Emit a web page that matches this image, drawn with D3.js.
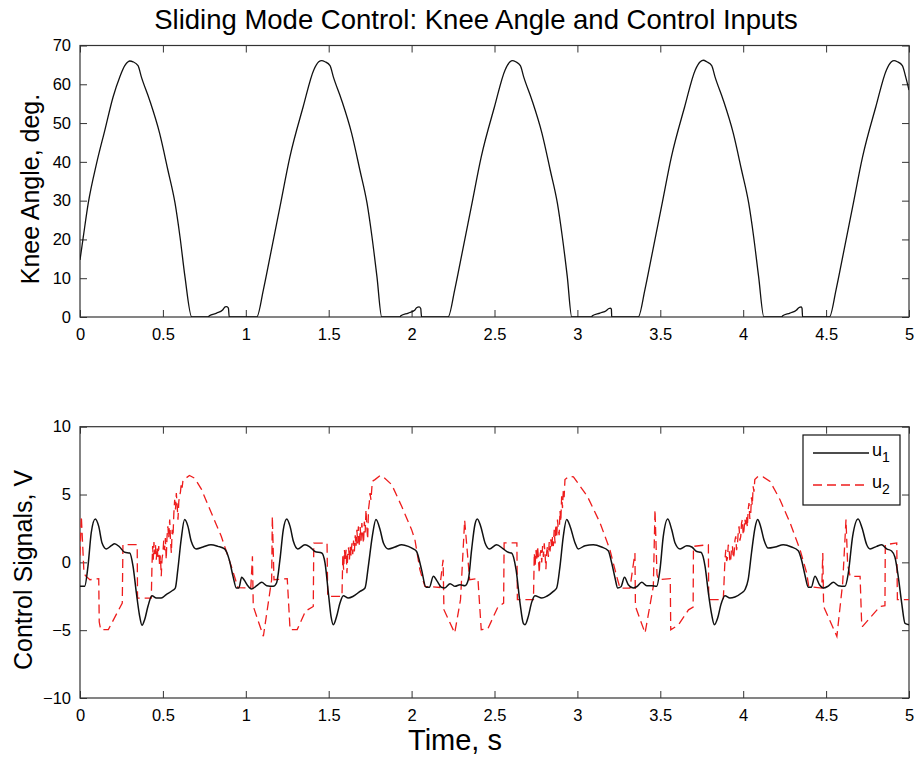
<!DOCTYPE html>
<html>
<head>
<meta charset="utf-8">
<script src="https://cdn.jsdelivr.net/npm/d3@7"></script>
<style>
  body { margin: 0; background: #fff; }
  text { font-family: "Liberation Sans", Arial, Helvetica, sans-serif; fill: #000; }
</style>
</head>
<body>
<svg width="918" height="757"></svg>
<script>
// tick values
const timeTicks = [0, 0.5, 1, 1.5, 2, 2.5, 3, 3.5, 4, 4.5, 5];
const kneeTicks = [0, 10, 20, 30, 40, 50, 60, 70];
const ctrlTicks = [-10, -5, 0, 5, 10];

// knee angle [t, deg]
const kneeAngle = [
  [0,14.7],[0.02,20.7],[0.05,29.4],[0.1,39.6],[0.15,48.2],[0.2,56.8],[0.24,61.9],[0.27,64.8],[0.29,65.8],[0.30,66.0],[0.32,65.8],[0.35,64.8],[0.37,61.9],[0.42,55.9],[0.48,47.4],[0.53,37.9],[0.573,29.4],[0.603,20.7],[0.633,10.4],[0.674,0],
  [0.774,0],[0.78,0.3],[0.824,1.0],[0.86,1.8],[0.875,2.6],[0.885,2.7],[0.895,2.3],[0.9,0],
  [1.066,0],[1.106,7],[1.146,15.5],[1.206,28.4],[1.266,41.3],[1.346,54.2],[1.41,63.7],[1.44,65.8],[1.458,66.1],[1.478,65.8],[1.508,64.8],[1.528,61.9],[1.578,55.9],[1.638,47.4],[1.688,37.9],[1.731,29.4],[1.761,20.7],[1.791,10.4],[1.82,0],
  [1.93,0],[1.935,0.3],[1.98,1.0],[2.02,1.8],[2.03,2.4],[2.045,2.6],[2.055,2.2],[2.06,0],
  [2.22,0],[2.26,7],[2.30,15.5],[2.36,28.4],[2.42,41.3],[2.50,54.2],[2.564,63.7],[2.594,65.8],[2.608,66.1],[2.628,65.8],[2.656,64.8],[2.676,61.9],[2.726,55.9],[2.786,47.4],[2.836,37.9],[2.879,29.4],[2.909,20.7],[2.939,10.4],[2.966,0],
  [3.086,0],[3.09,0.3],[3.136,1.0],[3.176,1.7],[3.19,2.2],[3.2,2.3],[3.205,2.0],[3.207,0],
  [3.367,0],[3.407,7],[3.447,15.5],[3.507,28.4],[3.567,41.3],[3.647,54.2],[3.711,63.7],[3.741,65.8],[3.76,66.2],[3.78,65.8],[3.81,64.8],[3.83,61.9],[3.88,55.9],[3.94,47.4],[3.99,37.9],[4.033,29.4],[4.063,20.7],[4.093,10.4],[4.125,0],
  [4.232,0],[4.238,0.3],[4.282,1.0],[4.322,1.8],[4.335,2.4],[4.35,2.6],[4.355,2.2],[4.358,0],
  [4.52,0],[4.56,7],[4.60,15.5],[4.66,28.4],[4.72,41.3],[4.80,54.2],[4.864,63.7],[4.894,65.8],[4.91,66.1],[4.93,65.8],[4.96,64.8],[4.98,61.9],[5.0,58.5]
];

// control signal u1 [t, V]
const u1 = [
  [0,-1.77],[0.028,-1.77],[0.048,-0.3],[0.068,2.2],[0.092,3.2],[0.113,2.65],[0.133,1.43],[0.159,0.99],[0.189,1.23],[0.209,1.38],[0.239,1.13],[0.27,0.74],[0.30,0.69],[0.32,-0.29],[0.34,-2.26],[0.36,-3.98],[0.374,-4.64],[0.39,-4.22],[0.41,-3.24],[0.434,-2.46],[0.46,-2.63],[0.49,-2.63],[0.52,-2.38],[0.56,-2.06],[0.575,-1.89],[0.59,-0.54],[0.61,1.67],[0.631,3.15],[0.651,2.65],[0.671,1.55],[0.70,0.99],[0.742,1.13],[0.79,1.3],[0.832,1.18],[0.872,0.99],[0.90,0.2],[0.923,-1.03],[0.943,-1.89],[0.958,-1.89],[0.975,-1.1],[0.99,-1.3],
  [1.015,-1.77],[1.035,-1.96],[1.066,-1.72],[1.096,-1.47],[1.126,-1.72],[1.166,-1.77],[1.186,-1.5],[1.206,0.2],[1.226,2.4],[1.247,3.2],[1.267,2.65],[1.287,1.55],[1.313,0.99],[1.357,1.3],[1.387,1.13],[1.417,0.8],[1.458,0.69],[1.478,-0.05],[1.498,-2.26],[1.514,-3.98],[1.528,-4.6],[1.548,-3.98],[1.568,-3.0],[1.588,-2.46],[1.618,-2.63],[1.648,-2.5],[1.689,-2.14],[1.719,-1.89],[1.739,-0.29],[1.763,1.92],[1.785,3.15],[1.81,2.4],[1.83,1.43],[1.86,0.99],[1.9,1.13],[1.94,1.3],[1.98,1.18],
  [2.01,0.99],[2.03,0.8],[2.06,-0.54],[2.087,-1.84],[2.107,-1.84],[2.131,-1.03],[2.155,-1.4],[2.18,-1.84],[2.2,-1.89],[2.232,-1.57],[2.262,-1.77],[2.292,-1.65],[2.322,-1.72],[2.342,-1.28],[2.362,0.94],[2.382,2.79],[2.396,3.2],[2.417,2.65],[2.443,1.43],[2.469,0.99],[2.513,1.3],[2.553,0.99],[2.583,0.74],[2.603,0.69],[2.63,-0.54],[2.654,-3.0],[2.674,-4.5],[2.684,-4.6],[2.704,-3.98],[2.724,-2.95],[2.744,-2.46],[2.785,-2.63],[2.815,-2.5],[2.855,-2.14],[2.875,-1.89],[2.895,-0.29],[2.915,1.92],[2.935,3.15],[2.956,2.65],[2.986,1.43],
  [3.005,0.99],[3.046,1.23],[3.096,1.3],[3.146,1.13],[3.186,0.86],[3.207,-0.05],[3.227,-1.15],[3.243,-1.89],[3.263,-1.8],[3.284,-1.1],[3.307,-1.65],[3.337,-1.89],[3.357,-1.8],[3.388,-1.47],[3.418,-1.72],[3.448,-1.72],[3.478,-1.77],[3.498,-0.54],[3.518,1.92],[3.545,3.2],[3.569,2.4],[3.589,1.43],[3.619,0.99],[3.66,1.23],[3.69,1.13],[3.72,0.8],[3.745,0.74],[3.77,-0.29],[3.79,-2.26],[3.81,-3.86],[3.826,-4.6],[3.846,-4.1],[3.866,-3.1],[3.89,-2.46],[3.92,-2.63],[3.95,-2.55],[3.99,-2.26],
  [4.011,-2.0],[4.03,-1.28],[4.05,0.69],[4.071,2.53],[4.087,3.15],[4.105,2.65],[4.125,1.67],[4.151,1.05],[4.192,1.13],[4.242,1.3],[4.292,1.13],[4.332,0.86],[4.353,0.12],[4.373,-0.97],[4.393,-1.84],[4.41,-1.84],[4.433,-1.03],[4.46,-1.65],[4.483,-1.89],[4.513,-1.75],[4.544,-1.47],[4.574,-1.72],[4.614,-1.77],[4.634,-0.78],[4.66,1.92],[4.693,3.2],[4.717,2.53],[4.745,1.3],[4.765,0.99],[4.805,1.18],[4.835,1.3],[4.865,1.0],[4.895,0.84],[4.915,0.39],[4.935,-1.03],[4.956,-3.0],[4.976,-4.5],[5.0,-4.6]
];

// control signal u2 [t, V]
const u2 = [
  [0,0.5],[0.008,3.4],[0.024,-0.8],[0.034,-1.0],[0.06,-1.28],[0.113,-1.2],[0.116,-4.4],[0.125,-4.96],[0.171,-4.96],[0.229,-3.6],[0.255,-3.0],[0.259,1.3],[0.345,1.3],[0.347,-2.63],[0.43,-2.63],
  [0.434,-0.3],[0.438,1.2],[0.442,0.2],[0.446,1.5],[0.45,0.6],[0.455,1.3],[0.46,0.2],[0.465,1.1],[0.47,0.4],[0.475,1.2],[0.48,-0.3],[0.485,0.5],[0.49,-1.03],[0.495,0.3],[0.50,0.69],[0.505,1.6],[0.51,0.9],[0.515,1.8],[0.52,0.2],[0.525,1.9],[0.53,2.65],[0.535,1.8],[0.541,3.15],[0.546,1.6],[0.551,0.69],[0.556,2.4],[0.561,1.92],[0.566,3.6],[0.571,4.62],[0.576,3.9],[0.581,5.11],[0.586,4.2],[0.591,3.15],[0.596,4.5],[0.601,4.9],[0.606,5.2],[0.611,5.85],[0.616,5.5],[0.621,6.05],[0.66,6.4],[0.692,6.2],
  [0.732,5.4],[0.792,3.65],[0.852,1.92],[0.913,-0.3],[0.953,-1.87],[1.03,-1.9],
  [1.04,0.44],[1.045,-3.24],[1.106,-5.45],[1.156,-1.28],[1.16,3.4],[1.17,-1.28],[1.25,-1.2],[1.267,-4.96],[1.31,-4.96],[1.36,-3.6],[1.407,-3.25],[1.41,1.42],[1.49,1.42],[1.494,-2.51],[1.58,-2.51],
  [1.585,0.44],[1.59,-0.55],[1.595,0.9],[1.6,0.1],[1.605,0.93],[1.61,-0.8],[1.615,0.6],[1.62,1.1],[1.625,0.2],[1.63,1.2],[1.635,0.5],[1.64,1.4],[1.645,0.6],[1.65,1.6],[1.655,0.8],[1.66,2.0],[1.665,1.2],[1.67,2.4],[1.675,1.4],[1.679,2.65],[1.685,1.2],[1.69,2.6],[1.695,1.6],[1.70,2.9],[1.705,2.0],[1.71,1.4],[1.715,3.0],[1.72,2.2],[1.725,3.88],[1.73,2.6],[1.735,1.7],[1.74,3.9],[1.745,4.4],[1.749,5.1],[1.755,4.6],[1.763,5.97],[1.779,6.1],[1.81,6.39],[1.829,6.3],
  [1.88,5.73],[1.94,4.13],[2.0,2.41],[2.02,1.67],[2.05,-0.54],[2.08,-1.77],[2.17,-1.85],
  [2.19,0.19],[2.195,-3.49],[2.26,-5.21],[2.295,-2.75],[2.32,3.1],[2.345,-0.54],[2.35,-1.28],[2.40,-1.2],[2.42,-4.97],[2.46,-4.9],[2.52,-3.3],[2.555,-3.0],[2.558,1.43],[2.635,1.43],[2.638,-2.75],[2.735,-2.75],
  [2.74,0.69],[2.745,-0.3],[2.75,0.9],[2.755,0.1],[2.76,1.18],[2.765,0.3],[2.77,-0.8],[2.775,0.6],[2.78,0.9],[2.785,0.0],[2.79,1.2],[2.795,0.4],[2.80,1.4],[2.805,0.6],[2.81,-0.5],[2.815,0.8],[2.82,1.2],[2.825,0.4],[2.83,1.5],[2.835,0.8],[2.84,1.7],[2.845,1.0],[2.85,1.9],[2.855,1.2],[2.86,2.4],[2.865,1.4],[2.87,2.8],[2.875,1.8],[2.88,3.15],[2.885,2.4],[2.89,2.0],[2.895,3.8],[2.9,3.0],[2.905,4.87],[2.91,4.0],[2.915,5.3],[2.92,4.8],[2.925,6.1],[2.95,6.34],[2.976,6.3],
  [3.06,4.87],[3.137,2.9],[3.196,0.93],[3.237,-1.03],[3.257,-1.9],[3.317,-1.9],
  [3.347,0.69],[3.35,-3.25],[3.408,-5.21],[3.458,-1.77],[3.468,3.88],[3.48,-0.9],[3.49,-1.28],[3.56,-1.2],[3.563,-4.97],[3.61,-4.6],[3.67,-3.5],[3.698,-3.3],[3.70,1.18],[3.79,1.3],[3.792,-2.75],[3.88,-2.75],
  [3.89,0.2],[3.895,0.93],[3.9,0.1],[3.905,0.3],[3.91,1.3],[3.915,1.0],[3.92,0.0],[3.925,0.2],[3.93,1.1],[3.935,1.2],[3.94,0.3],[3.945,0.6],[3.95,1.6],[3.955,1.92],[3.96,0.9],[3.965,1.3],[3.97,2.2],[3.975,2.65],[3.98,1.6],[3.985,1.9],[3.99,2.9],[3.995,3.15],[4.0,2.0],[4.005,2.4],[4.01,3.2],[4.015,2.8],[4.02,3.4],[4.025,2.6],[4.03,3.9],[4.035,4.37],[4.04,3.2],[4.045,3.5],[4.05,4.8],[4.055,4.2],[4.06,5.6],[4.065,5.2],[4.07,6.1],[4.09,6.34],[4.12,6.3],
  [4.162,5.97],[4.222,4.62],[4.283,2.9],[4.343,0.93],[4.383,-0.79],[4.395,-1.77],[4.474,-1.9],
  [4.48,0.69],[4.485,-3.25],[4.565,-5.46],[4.6,-1.52],[4.62,3.15],[4.63,-0.2],[4.645,-1.03],[4.705,-1.03],[4.715,-4.72],[4.72,-4.72],[4.825,-3.25],[4.855,-3.2],[4.857,1.3],[4.926,1.43],[4.93,-2.75],[5.0,-2.75]
];

const svg = d3.select("svg");
const left = 80, right = 909;
const top1 = 45.5, bot1 = 317;
const top2 = 426.7, bot2 = 698;

const x = d3.scaleLinear().domain([0, 5]).range([left, right]);
const yKnee = d3.scaleLinear().domain([0, 70]).range([bot1, top1]);
const yCtrl = d3.scaleLinear().domain([-10, 10]).range([bot2, top2]);

const fmt = d => d < 0 ? "\u2212" + Math.abs(d) : String(d);

function drawPanel(y, yTicks, top, bot, id) {
    // clip for the lines
    svg.append("clipPath").attr("id", id)
        .append("rect")
        .attr("x", left).attr("y", top)
        .attr("width", right - left).attr("height", bot - top);

    const tick = 7;
    const gb = svg.append("g").attr("transform", `translate(0,${bot})`)
        .call(d3.axisBottom(x).tickValues(timeTicks).tickSize(-tick).tickPadding(11).tickFormat(fmt));
    const gt = svg.append("g").attr("transform", `translate(0,${top})`)
        .call(d3.axisTop(x).tickValues(timeTicks).tickSize(-tick).tickFormat(""));
    const gl = svg.append("g").attr("transform", `translate(${left},0)`)
        .call(d3.axisLeft(y).tickValues(yTicks).tickSize(-tick).tickPadding(9).tickFormat(fmt));
    const gr = svg.append("g").attr("transform", `translate(${right},0)`)
        .call(d3.axisRight(y).tickValues(yTicks).tickSize(-tick).tickFormat(""));

    [gb, gt, gl, gr].forEach(g => {
        g.select(".domain").remove();
        g.selectAll("line").attr("stroke", "#333").attr("stroke-width", 1);
        g.selectAll("text").style("font-size", "16.5px").attr("fill", "#000");
    });

    svg.append("rect")
        .attr("x", left).attr("y", top)
        .attr("width", right - left).attr("height", bot - top)
        .attr("fill", "none").attr("stroke", "#333").attr("stroke-width", 1.2);
}

drawPanel(yKnee, kneeTicks, top1, bot1, "clip1");
drawPanel(yCtrl, ctrlTicks, top2, bot2, "clip2");

// knee angle
svg.append("path")
    .datum(kneeAngle)
    .attr("clip-path", "url(#clip1)")
    .attr("fill", "none")
    .attr("stroke", "#111")
    .attr("stroke-width", 1.3)
    .attr("d", d3.line().curve(d3.curveMonotoneX).x(d => x(d[0])).y(d => yKnee(d[1])));

// u2 dashed red
svg.append("path")
    .datum(u2)
    .attr("clip-path", "url(#clip2)")
    .attr("fill", "none")
    .attr("stroke", "#ee1c1c")
    .attr("stroke-width", 1.3)
    .attr("stroke-dasharray", "9,5")
    .attr("d", d3.line().x(d => x(d[0])).y(d => yCtrl(d[1])));

// u1 solid black
svg.append("path")
    .datum(u1)
    .attr("clip-path", "url(#clip2)")
    .attr("fill", "none")
    .attr("stroke", "#111")
    .attr("stroke-width", 1.5)
    .attr("d", d3.line().curve(d3.curveMonotoneX).x(d => x(d[0])).y(d => yCtrl(d[1])));

// titles and labels
svg.append("text")
    .attr("x", 476).attr("y", 29)
    .attr("text-anchor", "middle")
    .style("font-size", "27.5px")
    .text("Sliding Mode Control: Knee Angle and Control Inputs");

svg.append("text")
    .attr("transform", "translate(39,189) rotate(-90)")
    .attr("text-anchor", "middle")
    .style("font-size", "25px")
    .text("Knee Angle, deg.");

svg.append("text")
    .attr("transform", "translate(32,570) rotate(-90)")
    .attr("text-anchor", "middle")
    .style("font-size", "25px")
    .text("Control Signals, V");

svg.append("text")
    .attr("x", 455).attr("y", 750)
    .attr("text-anchor", "middle")
    .style("font-size", "29px")
    .text("Time, s");

// legend
const legend = svg.append("g");
legend.append("rect")
    .attr("x", 803).attr("y", 435)
    .attr("width", 97).attr("height", 70)
    .attr("fill", "#fff").attr("stroke", "#111").attr("stroke-width", 1.2);

const items = [
    { name: "1", color: "#111", dash: null, y: 453 },
    { name: "2", color: "#ee1c1c", dash: "9,5", y: 485 }
];
items.forEach(it => {
    legend.append("line")
        .attr("x1", 813).attr("x2", 869)
        .attr("y1", it.y).attr("y2", it.y)
        .attr("stroke", it.color).attr("stroke-width", 1.3)
        .attr("stroke-dasharray", it.dash);
    const t = legend.append("text")
        .attr("x", 872).attr("y", it.y + 3)
        .style("font-size", "18px");
    t.append("tspan").text("u");
    t.append("tspan").attr("dy", 6).style("font-size", "14px").text(it.name);
});
</script>
</body>
</html>
